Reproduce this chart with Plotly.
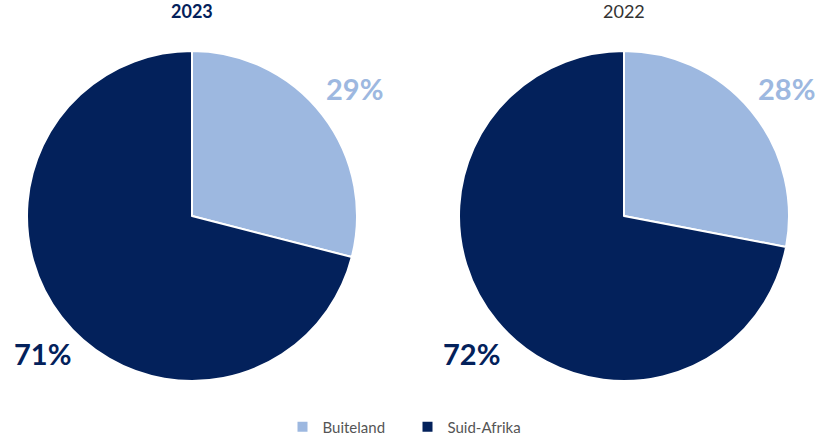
import plotly.graph_objects as go

# Data
categories = ["Buiteland", "Suid-Afrika"]
years = ["2023", "2022"]
shares_2023 = [29, 71]
shares_2022 = [28, 72]

LIGHT = "#9DB8E0"
NAVY = "#03215B"
FONT = "Lato, Open Sans, sans-serif"

W, H = 815, 437


def fx(x):
    return x / W


def fy(y):
    return 1 - y / H


fig = go.Figure()

domains = [[fx(27), fx(357)], [fx(459), fx(789)]]
for i, (year, vals) in enumerate(zip(years, [shares_2023, shares_2022])):
    fig.add_trace(go.Pie(
        labels=categories,
        values=vals,
        sort=False,
        direction="clockwise",
        rotation=0,
        textinfo="none",
        hoverinfo="label+percent",
        marker=dict(colors=[LIGHT, NAVY], line=dict(color="white", width=2)),
        domain=dict(x=domains[i], y=[fy(381), fy(51)]),
        showlegend=(i == 0),
    ))

annotations = []
# year titles
for year, cx, bold in [(years[0], 192, True), (years[1], 624, False)]:
    annotations.append(dict(
        x=fx(cx), y=fy(11), xref="paper", yref="paper",
        xanchor="center", yanchor="middle",
        text=f"<b>{year}</b>" if bold else year, showarrow=False,
        font=dict(family=FONT, size=18, color=NAVY if bold else "#333333"),
    ))
# percentage labels
label_pos = [((354, 88), (42, 353)), ((786, 88), (471, 353))]
for vals, pos in zip([shares_2023, shares_2022], label_pos):
    for v, (px_, py_), col in zip(vals, pos, [LIGHT, NAVY]):
        annotations.append(dict(
            x=fx(px_), y=fy(py_), xref="paper", yref="paper",
            xanchor="center", yanchor="middle",
            text=f"<b>{v}%</b>", showarrow=False,
            font=dict(family=FONT, size=29, color=col),
        ))

fig.update_layout(
    width=W, height=H,
    margin=dict(l=0, r=0, t=0, b=0, autoexpand=False),
    paper_bgcolor="white",
    annotations=annotations,
    legend=dict(
        orientation="h", x=0.5, xanchor="center", y=fy(427), yanchor="middle",
        font=dict(family=FONT, size=15, color="#555555"),
        entrywidth=80, entrywidthmode="pixels", traceorder="normal",
    ),
)

# drop the default body margin so the figure sits at the page corner
fig.write_html(
    "out.html",
    config={"displayModeBar": False},
    post_script="document.body.style.margin='0';",
)
